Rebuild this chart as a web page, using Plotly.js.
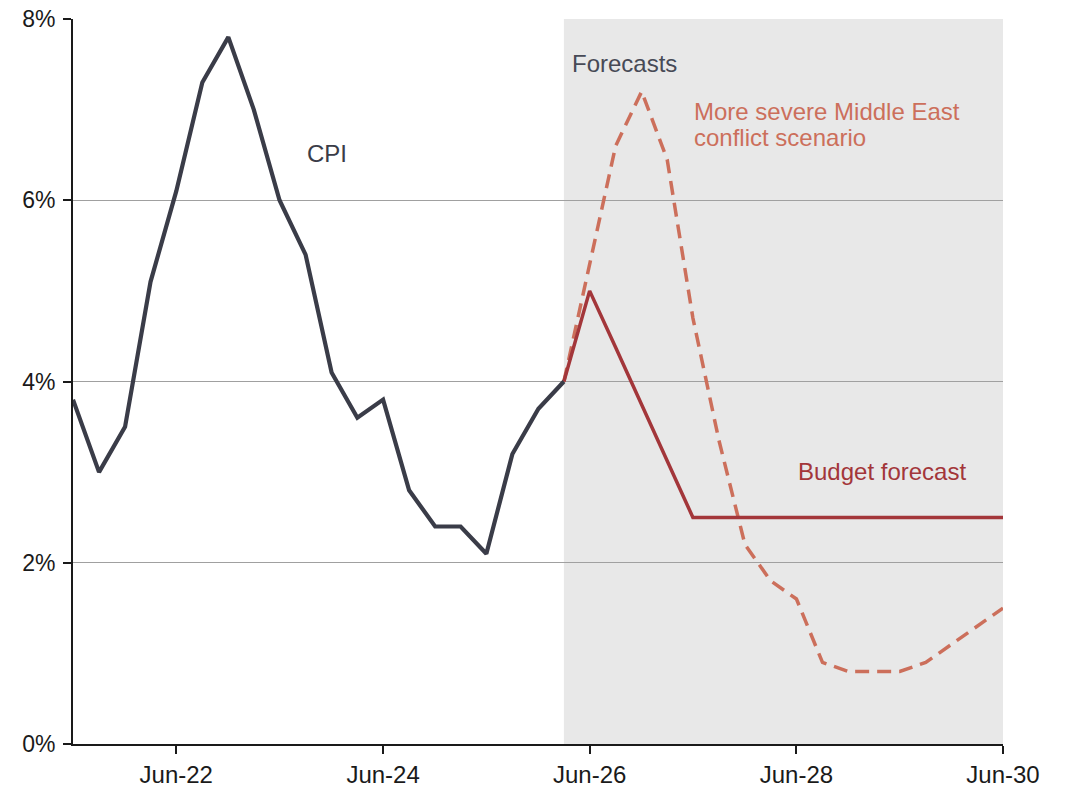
<!DOCTYPE html>
<html>
<head>
<meta charset="utf-8">
<script src="https://cdn.plot.ly/plotly-3.0.1.min.js"></script>
<style>
  html, body { margin: 0; padding: 0; background: #fff; }
  #chart { width: 1066px; height: 788px; }
</style>
</head>
<body>
<div id="chart"></div>
<script>
// Quarterly CPI (annual % change), actuals
const cpiDates = ['2021-06-30','2021-09-30','2021-12-31','2022-03-31','2022-06-30','2022-09-30',
  '2022-12-31','2023-03-31','2023-06-30','2023-09-30','2023-12-31','2024-03-31','2024-06-30',
  '2024-09-30','2024-12-31','2025-03-31','2025-06-30','2025-09-30','2025-12-31','2026-03-31'];
const cpiValues = [3.8, 3.0, 3.5, 5.1, 6.1, 7.3, 7.8, 7.0, 6.0, 5.4, 4.1, 3.6, 3.8,
  2.8, 2.4, 2.4, 2.1, 3.2, 3.7, 4.0];

// Budget forecast
const budgetDates = ['2026-03-31','2026-06-30','2026-09-30','2026-12-31','2027-03-31','2027-06-30',
  '2027-09-30','2027-12-31','2028-03-31','2028-06-30','2028-09-30','2028-12-31','2029-03-31',
  '2029-06-30','2029-09-30','2029-12-31','2030-03-31','2030-06-30'];
const budgetValues = [4.0, 5.0, 4.375, 3.75, 3.125, 2.5, 2.5, 2.5, 2.5, 2.5, 2.5, 2.5, 2.5,
  2.5, 2.5, 2.5, 2.5, 2.5];

// More severe Middle East conflict scenario
const severeDates = budgetDates;
const severeValues = [4.0, 5.3, 6.6, 7.2, 6.45, 4.7, 3.35, 2.2, 1.8, 1.6, 0.9, 0.8, 0.8,
  0.8, 0.9, 1.1, 1.3, 1.5];

// Axis ticks
const xTickVals = ['2022-06-30','2024-06-30','2026-06-30','2028-06-30','2030-06-30'];
const xTickText = ['Jun-22','Jun-24','Jun-26','Jun-28','Jun-30'];
const yTickVals = [0, 2, 4, 6, 8];
const yTickText = ['0%','2%','4%','6%','8%'];

const forecastStart = '2026-03-31';
const xStart = '2021-06-30';
const xEnd = '2030-06-30';

const cpiColor = '#3a3c48';
const budgetColor = '#a3363a';
const severeColor = '#cc6f5b';

const traces = [
  {
    x: severeDates, y: severeValues, type: 'scatter', mode: 'lines',
    line: { color: severeColor, width: 3.5, dash: '14px,8px' },
    hoverinfo: 'skip'
  },
  {
    x: budgetDates, y: budgetValues, type: 'scatter', mode: 'lines',
    line: { color: budgetColor, width: 3.5 },
    hoverinfo: 'skip'
  },
  {
    x: cpiDates, y: cpiValues, type: 'scatter', mode: 'lines',
    line: { color: cpiColor, width: 4.2 },
    hoverinfo: 'skip'
  }
];

const family = 'Liberation Sans, Arial, sans-serif';

function label(text, x, y, color) {
  return {
    text: text, xref: 'x', yref: 'y', x: x, y: y,
    xanchor: 'left', yanchor: 'middle', showarrow: false,
    font: { family: family, size: 24, color: color }
  };
}

const layout = {
  width: 1066, height: 788,
  margin: { l: 73, r: 63, t: 19, b: 44 },
  paper_bgcolor: '#ffffff', plot_bgcolor: '#ffffff',
  showlegend: false,
  font: { family: family, size: 23, color: '#1a1a1a' },
  xaxis: {
    type: 'date', range: [xStart, xEnd],
    tickvals: xTickVals, ticktext: xTickText,
    showgrid: false, zeroline: false,
    showline: true, linecolor: '#1a1a1a', linewidth: 2,
    ticks: 'outside', ticklen: 8, tickwidth: 2, tickcolor: '#1a1a1a',
    tickfont: { family: family, size: 24, color: '#1a1a1a' }
  },
  yaxis: {
    range: [0, 8],
    tickvals: yTickVals, ticktext: yTickText,
    showgrid: true, gridcolor: '#a0a0a0', gridwidth: 1.2,
    zeroline: false,
    showline: true, linecolor: '#1a1a1a', linewidth: 2,
    ticks: 'outside', ticklen: 8, tickwidth: 2, tickcolor: '#1a1a1a',
    ticklabelstandoff: 3,
    tickfont: { family: family, size: 23, color: '#1a1a1a' }
  },
  shapes: [
    {
      type: 'rect', layer: 'below', xref: 'x', yref: 'paper',
      x0: forecastStart, x1: xEnd, y0: 0, y1: 1,
      fillcolor: '#e8e8e8', line: { width: 0 }
    }
  ],
  annotations: [
    label('CPI', '2023-09-28', 6.52, cpiColor),
    label('Forecasts', '2026-04-22', 7.51, '#474a56'),
    label('More severe Middle East', '2027-06-28', 6.98, severeColor),
    label('conflict scenario', '2027-06-28', 6.69, severeColor),
    label('Budget forecast', '2028-06-28', 3.01, budgetColor)
  ]
};

Plotly.newPlot('chart', traces, layout, { displayModeBar: false, staticPlot: true });
</script>
</body>
</html>
